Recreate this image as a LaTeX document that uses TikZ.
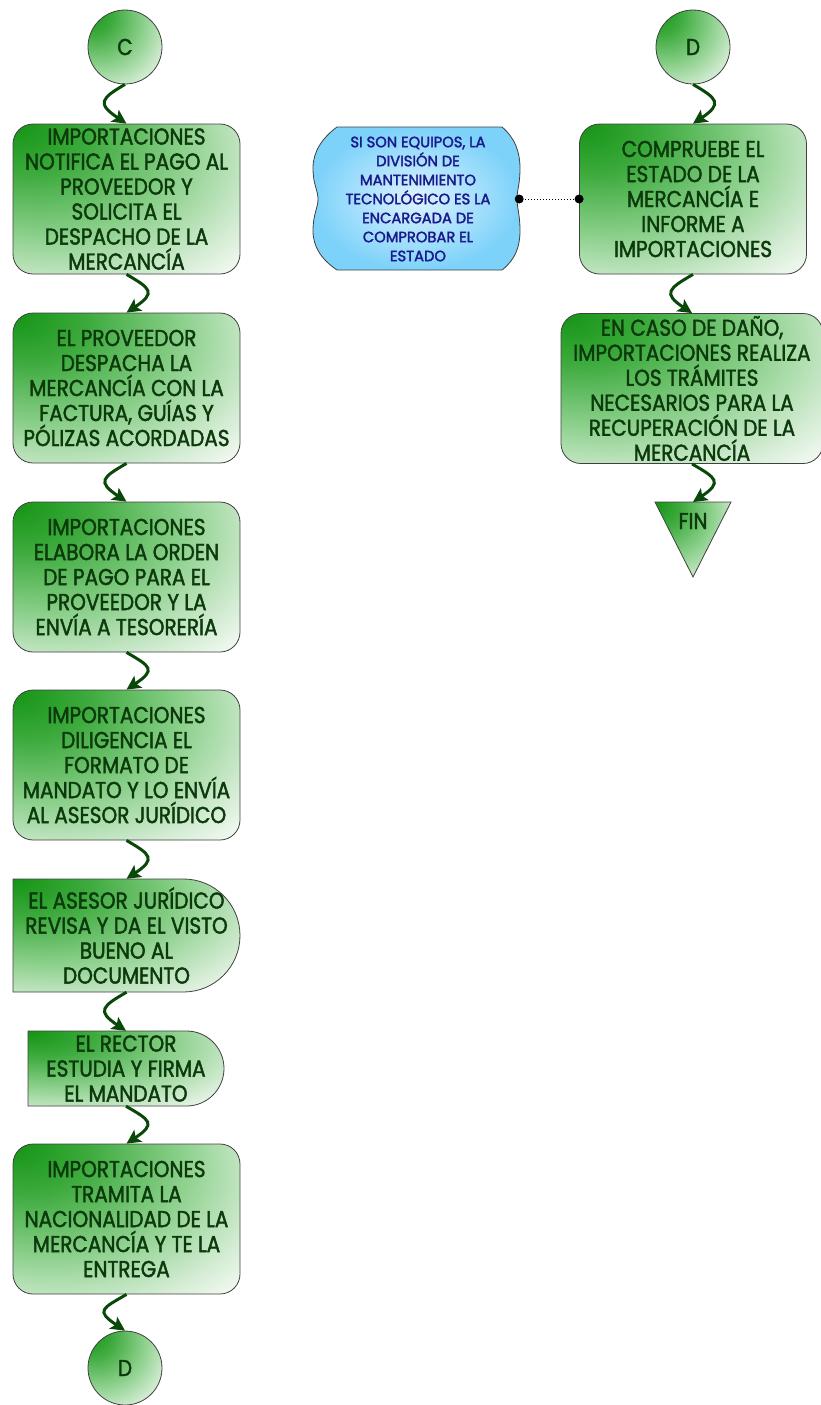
\documentclass[tikz,border=0pt]{standalone}
\usepackage{fontspec}
\setmainfont{Poppins}[FakeStretch=0.87, FakeBold=1.8]
\newfontfamily\notefont{Poppins}[FakeStretch=0.98, FakeBold=2.2]
\usetikzlibrary{arrows.meta}

\definecolor{gA}{RGB}{20,148,20}
\definecolor{gA2}{RGB}{60,170,60}
\definecolor{gB}{RGB}{140,208,140}
\definecolor{gC}{RGB}{212,236,212}
\definecolor{txtg}{RGB}{12,58,12}
\definecolor{linkg}{RGB}{10,72,10}
\definecolor{bOut}{RGB}{125,210,250}
\definecolor{bIn}{RGB}{222,243,255}
\definecolor{txtb}{RGB}{26,26,140}

% green glow spreading from the upper left corner of a shape
% (the path's bounding box covers the central 50bp square of the shading)
\pgfdeclareradialshading{greenglow}{\pgfpoint{-25bp}{25bp}}{%
  color(0bp)=(gA); color(13bp)=(gA2); color(30bp)=(gB); color(44bp)=(gC);
  color(54bp)=(white); color(100bp)=(white)}

% curved connectors bending to the right / to the left
\newcommand\linkR[2]{\draw[link] (#1) .. controls +(24,-14) and +(30,20) .. (#2);}
\newcommand\linkL[2]{\draw[link] (#1) .. controls +(-24,-14) and +(-30,20) .. (#2);}

\begin{document}
\begin{tikzpicture}[x=1pt,y=1pt,
  greenfill/.style={shading=greenglow},
  outline/.style={draw=black!75, line width=0.8pt},
  boxtext/.style={inner sep=0, align=center, text=txtg, font=\fontsize{23}{25}\selectfont},
  task/.style={outline, greenfill, rounded corners=20,
    minimum width=227, minimum height=150, boxtext},
  connector/.style={circle, outline, greenfill, minimum size=74, boxtext},
  link/.style={draw=linkg, line width=3pt, -{Stealth[length=14pt,width=14pt,inset=3pt]}},
  notetext/.style={inner sep=0, align=center, text=txtb, font=\notefont\fontsize{15}{19}\selectfont}
]
\useasboundingbox (0,0) rectangle (821,-1405);

% left column
\node[connector] (c) at (125,-47) {C};
\node[task] (b1) at (126.5,-199) {IMPORTACIONES\\NOTIFICA EL PAGO AL\\PROVEEDOR Y\\SOLICITA EL\\DESPACHO DE LA\\MERCANCÍA};
\node[task] (b2) at (126.5,-388) {EL PROVEEDOR\\DESPACHA LA\\MERCANCÍA CON LA\\FACTURA, GUÍAS Y\\PÓLIZAS ACORDADAS};
\node[task] (b3) at (126.5,-577) {IMPORTACIONES\\ELABORA LA ORDEN\\DE PAGO PARA EL\\PROVEEDOR Y LA\\ENVÍA A TESORERÍA};
\node[task] (b4) at (126.5,-765) {IMPORTACIONES\\DILIGENCIA EL\\FORMATO DE\\MANDATO Y LO ENVÍA\\AL ASESOR JURÍDICO};

% delay shapes: flat left side, half round right side
\path[outline, greenfill] (13,-879) -- (183.5,-879) arc[start angle=90, end angle=-90, radius=56.5] -- (13,-992) -- cycle;
\node[boxtext, minimum width=227, minimum height=113] (b5) at (126.5,-935.5) {EL ASESOR JURÍDICO\\REVISA Y DA EL VISTO\\BUENO AL\\DOCUMENTO};
\path[outline, greenfill] (28,-1031) -- (186.5,-1031) arc[start angle=90, end angle=-90, radius=37.5] -- (28,-1106) -- cycle;
\node[boxtext, minimum width=196, minimum height=75] (b6) at (126,-1068.5) {EL RECTOR\\ESTUDIA Y FIRMA\\EL MANDATO};

\node[task] (b7) at (126.5,-1219) {IMPORTACIONES\\TRAMITA LA\\NACIONALIDAD DE LA\\MERCANCÍA Y TE LA\\ENTREGA};
\node[connector] (d1) at (125,-1368) {D};

% right column
\node[connector] (d2) at (693,-47) {D};
\node[task] (r1) at (693,-199) {COMPRUEBE EL\\ESTADO DE LA\\MERCANCÍA E\\INFORME A\\IMPORTACIONES};
\node[task, minimum width=262] (r2) at (692,-388.5) {EN CASO DE DAÑO,\\IMPORTACIONES REALIZA\\LOS TRÁMITES\\NECESARIOS PARA LA\\RECUPERACIÓN DE LA\\MERCANCÍA};

% end marker
\path[outline, greenfill] (655,-502) -- (731,-502) -- (693,-577) -- cycle;
\coordinate (fintop) at (693,-502);
\node[boxtext] (fin) at (693,-521) {FIN};

% annotation
\path[outline, inner color=bIn, outer color=bOut]
  (337,-127) .. controls (322,-138) and (313,-152) .. (313,-168)
  .. controls (313,-185) and (318,-190) .. (318,-199)
  .. controls (318,-208) and (313,-214) .. (313,-231)
  .. controls (313,-247) and (322,-260) .. (337,-270)
  -- (502,-270)
  .. controls (515,-260) and (520,-247) .. (520,-231)
  .. controls (520,-214) and (517,-208) .. (517,-199)
  .. controls (517,-190) and (520,-185) .. (520,-168)
  .. controls (520,-152) and (515,-138) .. (502,-127) -- cycle;
\node[notetext, minimum width=202, minimum height=143] (note) at (418,-199)
  {SI SON EQUIPOS, LA\\DIVISIÓN DE\\MANTENIMIENTO\\TECNOLÓGICO ES LA\\ENCARGADA DE\\COMPROBAR EL\\ESTADO};
\draw[dotted, line width=1pt] (note.east) -- (r1.west);
\fill (note.east) circle (4.5);
\fill (r1.west) circle (4.5);

% flow
\linkL{c.south}{b1.north}
\linkR{b1.south}{b2.north}
\linkL{b2.south}{b3.north}
\linkR{b3.south}{b4.north}
\linkR{b4.south}{b5.north}
\linkL{b5.south}{b6.north}
\linkR{b6.south}{b7.north}
\linkL{b7.south}{d1.north}
\linkR{d2.south}{r1.north}
\linkL{r1.south}{r2.north}
\linkR{r2.south}{fintop}
\end{tikzpicture}
\end{document}
